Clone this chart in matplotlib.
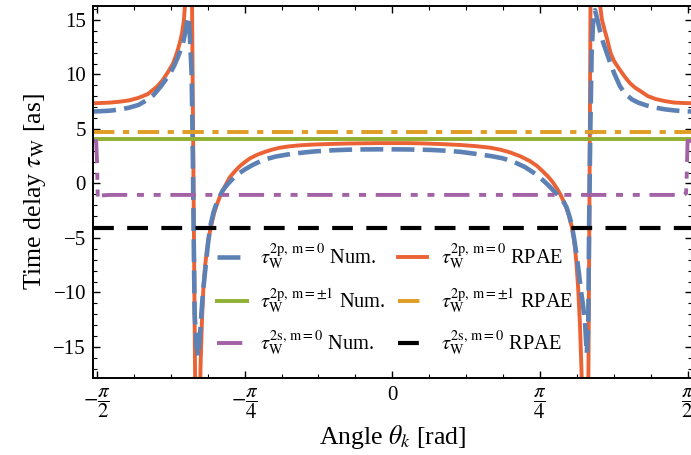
import numpy as np
import matplotlib
matplotlib.use('Agg')
import matplotlib.pyplot as plt
from matplotlib.lines import Line2D

plt.rcParams['font.family'] = ['Liberation Serif', 'DejaVu Serif']
plt.rcParams['mathtext.fontset'] = 'stix'

# 2p, m=0 delay from RPAE (angle in rad, delay in as)
theta_rpae = [-1.591, -1.55, -1.50, -1.45, -1.40, -1.35, -1.30, -1.25, -1.22, -1.19,
              -1.166, -1.145, -1.13, -1.118, -1.108, -1.100, -1.091, -1.084, -1.076, -1.065,
              -1.057, -1.049, -1.038, -1.028, -1.020, -1.012, -1.005, -0.995, -0.985, -0.972,
              -0.960, -0.947, -0.934, -0.920, -0.906, -0.885, -0.863, -0.835, -0.810, -0.785,
              -0.757, -0.720, -0.677, -0.640, -0.598, -0.550, -0.491, -0.420, -0.332, -0.250,
              -0.172, -0.080, 0.0, 0.080, 0.147, 0.250, 0.362, 0.440, 0.521, 0.575,
              0.626, 0.680, 0.732, 0.770, 0.801, 0.830, 0.854, 0.875, 0.892, 0.910,
              0.927, 0.940, 0.954, 0.965, 0.972, 0.980, 0.989, 0.998, 1.007, 1.017,
              1.027, 1.038, 1.043, 1.049, 1.054, 1.067, 1.078, 1.088, 1.100, 1.115,
              1.130, 1.140, 1.160, 1.180, 1.211, 1.240, 1.264, 1.290, 1.317, 1.360,
              1.400, 1.450, 1.500, 1.550, 1.5915]
tau_rpae = [7.36, 7.38, 7.42, 7.5, 7.62, 7.85, 8.2, 8.9, 9.5, 10.3,
            11.0, 12.0, 12.9, 13.8, 15.0, 17.0, 25, 35, 25, 16.5,
            0, -17, -35, -25, -17, -12.5, -9.8, -7.5, -6.0, -4.6,
            -3.65, -2.7, -2.0, -1.35, -0.8, -0.1, 0.6, 1.15, 1.6, 1.95,
            2.3, 2.62, 2.9, 3.1, 3.28, 3.4, 3.5, 3.57, 3.62, 3.66,
            3.68, 3.7, 3.7, 3.7, 3.68, 3.62, 3.53, 3.43, 3.28, 3.1,
            2.85, 2.5, 2.05, 1.6, 1.1, 0.6, 0.1, -0.45, -0.95, -1.6,
            -2.3, -3.0, -3.96, -5.0, -6.0, -7.5, -9.8, -13.0, -17.7, -25,
            -35, -25, -17, 0, 17, 25, 35, 25, 17.0, 15.0,
            14.0, 13.4, 12.0, 11.2, 10.4, 9.7, 9.2, 8.8, 8.5, 8.0,
            7.75, 7.55, 7.42, 7.38, 7.36]

# 2p, m=0 delay, numerical
theta_num = [-1.591, -1.55, -1.50, -1.45, -1.40, -1.35, -1.30, -1.27, -1.236, -1.21,
             -1.182, -1.16, -1.14, -1.125, -1.113, -1.104, -1.097, -1.090, -1.085, -1.080,
             -1.076, -1.067, -1.061, -1.056, -1.051, -1.042, -1.032, -1.021, -1.014, -1.007,
             -0.995, -0.978, -0.965, -0.950, -0.934, -0.917, -0.900, -0.880, -0.863, -0.830,
             -0.783, -0.740, -0.686, -0.620, -0.560, -0.508, -0.420, -0.331, -0.250, -0.172,
             -0.080, 0.0, 0.080, 0.200, 0.290, 0.362, 0.450, 0.530, 0.589, 0.650,
             0.706, 0.750, 0.801, 0.835, 0.865, 0.890, 0.908, 0.927, 0.940, 0.954,
             0.968, 0.981, 0.992, 1.003, 1.015, 1.025, 1.034, 1.042, 1.047, 1.053,
             1.060, 1.069, 1.078, 1.091, 1.104, 1.120, 1.140, 1.160, 1.180, 1.211,
             1.240, 1.275, 1.310, 1.353, 1.400, 1.450, 1.500, 1.550, 1.5915]
tau_num = [6.6, 6.63, 6.68, 6.78, 6.95, 7.2, 7.7, 8.1, 8.8, 9.4,
           10.1, 10.8, 11.6, 12.3, 12.9, 13.6, 14.2, 14.9, 15.3, 14.5,
           13.5, 10.0, 3.0, -5.0, -12.0, -14.8, -15.9, -13.5, -11.7, -10.0,
           -8.0, -5.2, -3.7, -2.6, -1.8, -1.15, -0.6, -0.15, 0.17, 0.75,
           1.3, 1.72, 2.16, 2.47, 2.65, 2.77, 2.93, 3.03, 3.09, 3.12,
           3.13, 3.13, 3.12, 3.08, 3.0, 2.9, 2.7, 2.5, 2.3, 1.95,
           1.5, 1.0, 0.3, -0.25, -0.8, -1.2, -1.6, -2.2, -2.9, -3.8,
           -5.2, -6.7, -8.2, -9.8, -11.3, -12.8, -15.6, -13.0, -3.0, 5.0,
           12.0, 15.2, 15.9, 15.0, 14.0, 13.0, 12.0, 11.0, 10.1, 8.9,
           8.2, 7.7, 7.4, 7.15, 6.95, 6.8, 6.7, 6.63, 6.6]

# 2s, m=0 delay, numerical
theta_2s = [-1.5915, -1.575, -1.570, -1.566, -1.55, -1.5, 0.0, 1.5, 1.55, 1.562, 1.566, 1.570, 1.5915]
tau_2s = [3.9, 3.9, 2.0, -1.5, -1.1, -1.05, -1.05, -1.05, -1.05, -0.9, 1.0, 3.9, 3.9]

# angle independent delays
tau_pm1_num = 4.05
tau_pm1_rpae = 4.75
tau_2s_rpae = -4.1

x_lim = (-1.5915, 1.5915)
y_lim = (-17.82, 16.28)

c_blue = '#5E81B5'
c_red = '#EB6235'
c_green = '#8FB032'
c_yellow = '#E19C24'
c_purple = '#A262A5'

fig = plt.figure(figsize=(6.91, 4.55), dpi=100)
ax = fig.add_axes([93/691, 1-377.7/455, 598.6/691, 371.7/455])

lw = 2.8
ax.plot(theta_rpae, tau_rpae, color=c_red, lw=lw)
ax.plot(theta_num, tau_num, color=c_blue, lw=lw+0.5, dashes=(5, 1.8))
ax.axhline(tau_pm1_rpae, color=c_yellow, lw=lw, dashes=(5.5, 2.2, 1.6, 2.2))
ax.axhline(tau_pm1_num, color=c_green, lw=lw)
ax.plot(theta_2s, tau_2s, color=c_purple, lw=lw, dashes=(6.5, 2.5, 1.8, 2.5, 1.8, 2.5))
ax.axhline(tau_2s_rpae, color='black', lw=lw+0.2, dashes=(5, 3.2))

ax.set_xlim(*x_lim)
ax.set_ylim(*y_lim)

ax.set_xticks([-np.pi/2, -np.pi/4, 0, np.pi/4, np.pi/2])
ax.set_xticklabels([r'$-\dfrac{\pi}{2}$', r'$-\dfrac{\pi}{4}$', '0', r'$\dfrac{\pi}{4}$', r'$\dfrac{\pi}{2}$'])
ax.set_xticks(np.arange(-8, 9) * np.pi/16, minor=True)
ax.set_yticks([-15, -10, -5, 0, 5, 10, 15])
ax.set_yticks(np.arange(-17, 17), minor=True)
ax.tick_params(which='both', direction='in', top=True, right=True, labelsize=15)
ax.tick_params(which='major', length=5, width=1)
ax.tick_params(which='minor', length=2.8, width=0.8)
ax.tick_params(axis='y', pad=5)
ax.tick_params(axis='x', pad=6)
for sp in ax.spines.values():
    sp.set_linewidth(1.4)

ax.set_xlabel(r'Angle $\theta_k$ [rad]', fontsize=18.5, labelpad=2)
ax.set_ylabel(r'Time delay $\tau_{\rm W}$ [as]', fontsize=18.5, labelpad=4)

handles = [
    Line2D([], [], color=c_blue, lw=lw+0.5, dashes=(5, 1.8)),
    Line2D([], [], color=c_green, lw=lw),
    Line2D([], [], color=c_purple, lw=lw, dashes=(6.5, 2.5, 1.8, 2.5, 1.8, 2.5)),
    Line2D([], [], color=c_red, lw=lw),
    Line2D([], [], color=c_yellow, lw=lw, dashes=(5.5, 2.2, 1.6, 2.2)),
    Line2D([], [], color='black', lw=lw+0.2, dashes=(5, 3.2)),
]
labels = [
    r'$\tau_{\rm W}^{\rm 2p,\,m=0}$ Num.',
    r'$\tau_{\rm W}^{\rm 2p,\,m=\pm1}$ Num.',
    r'$\tau_{\rm W}^{\rm 2s,\,m=0}$ Num.',
    r'$\tau_{\rm W}^{\rm 2p,\,m=0}$ RPAE',
    r'$\tau_{\rm W}^{\rm 2p,\,m=\pm1}$ RPAE',
    r'$\tau_{\rm W}^{\rm 2s,\,m=0}$ RPAE',
]
ax.legend(handles, labels, ncol=2, loc='upper left', bbox_to_anchor=(0.207, 0.362),
          frameon=False, fontsize=14.7, handlelength=1.45, handletextpad=0.65,
          columnspacing=0.6, labelspacing=0.68, borderaxespad=0, borderpad=0)

fig.savefig('out.png', dpi=100)
